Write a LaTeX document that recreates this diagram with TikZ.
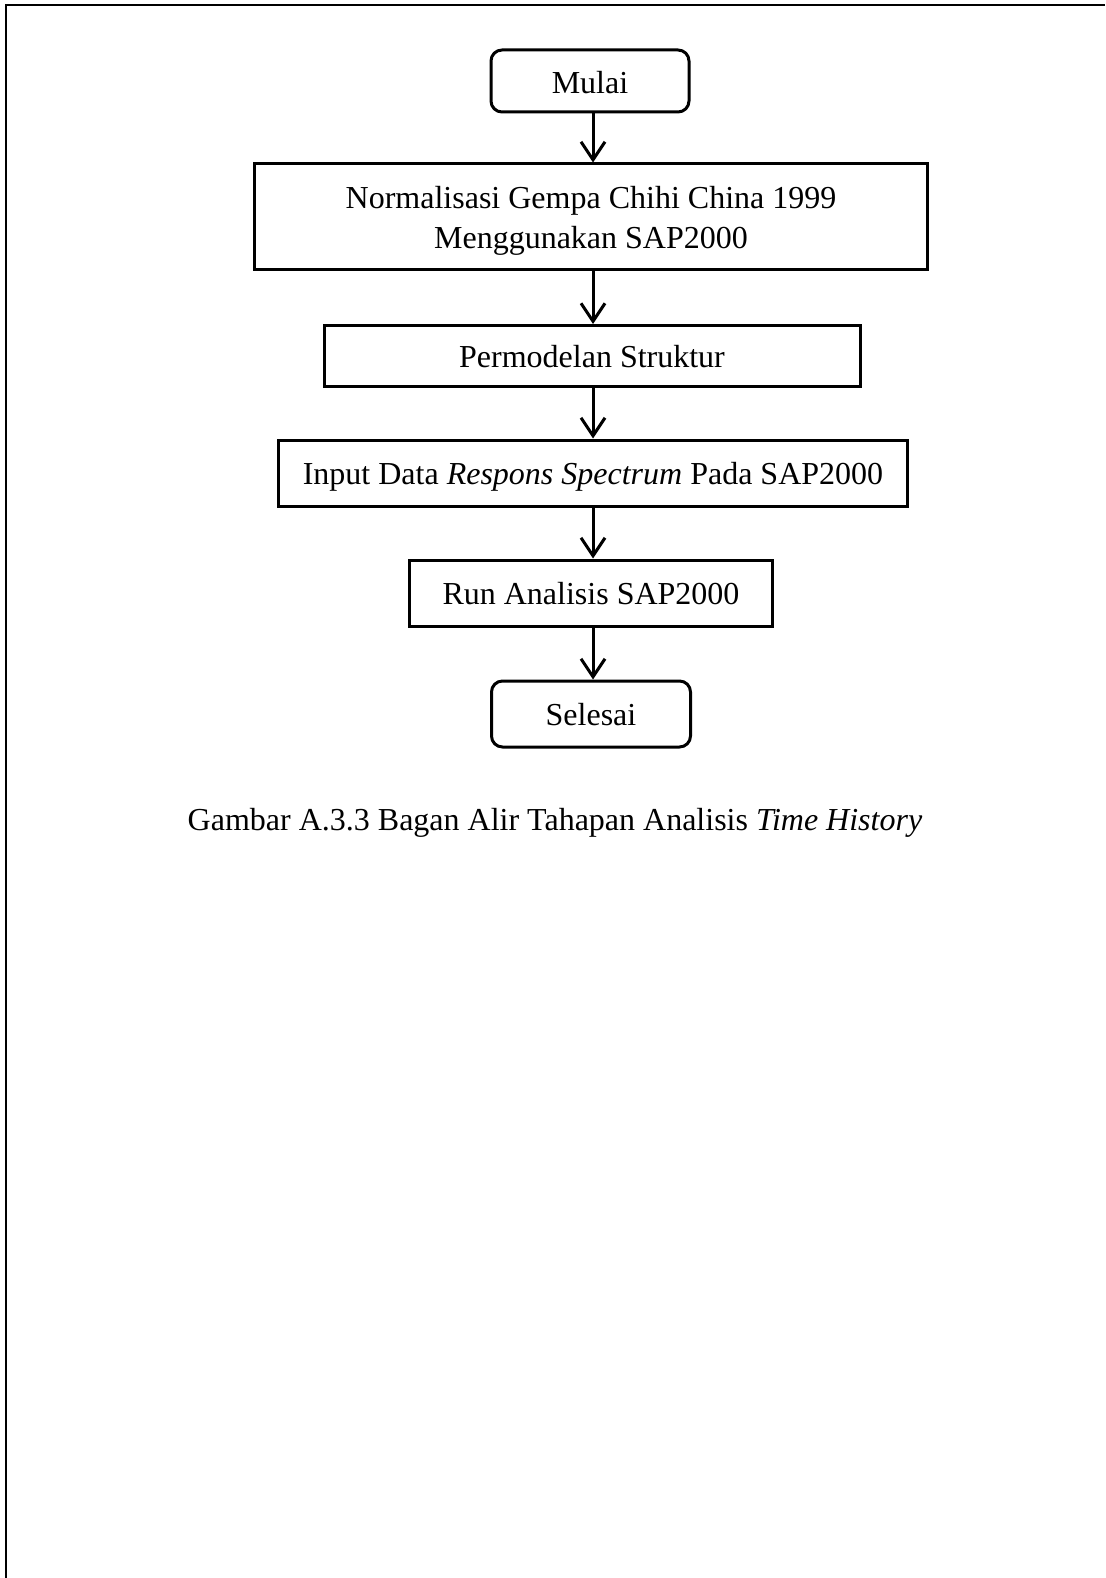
\documentclass[tikz,border=0pt]{standalone}
\usepackage{fontspec}
\setmainfont{Liberation Serif}
\usetikzlibrary{arrows.meta}
\begin{document}
\begin{tikzpicture}[x=1pt,y=-1pt,
  every node/.style={font=\fontsize{32}{40}\selectfont},
  procbox/.style={draw, line width=3pt, inner sep=0pt, align=center, text depth=0pt},
  termbox/.style={procbox, rounded corners=11pt},
  flow/.style={line width=3pt, -{Straight Barb[length=18pt,width=24pt,line width=3pt]}},
  frameline/.style={line width=2.5pt}]
\useasboundingbox (0,0) rectangle (1105,1578);
\draw[frameline] (6,1578) -- (6,5) -- (1105,5);

\node[termbox, minimum width=198pt, minimum height=62pt] (start) at (590,81) {\raisebox{-2pt}{Mulai}};
\node[procbox, minimum width=673pt, minimum height=106pt] (norm) at (591,217) {Normalisasi Gempa Chihi China 1999\\Menggunakan SAP2000};
\node[procbox, minimum width=536pt, minimum height=61pt] (model) at (592,356) {Permodelan Struktur};
\node[procbox, minimum width=629pt, minimum height=66pt] (input) at (593,473) {Input Data \textit{Respons Spectrum} Pada SAP2000};
\node[procbox, minimum width=363pt, minimum height=66pt] (run) at (591,593) {Run Analisis SAP2000};
\node[termbox, minimum width=199pt, minimum height=66pt] (end) at (591,714) {\raisebox{-1pt}{Selesai}};

\node[text depth=0pt] (cap) at (555,819) {Gambar A.3.3 Bagan Alir Tahapan Analisis \textit{Time History}};

\coordinate (ax) at (593,0);
\draw[flow] (start.south -| ax) -- (norm.north -| ax);
\draw[flow] (norm.south -| ax) -- (model.north -| ax);
\draw[flow] (model.south -| ax) -- (input.north -| ax);
\draw[flow] (input.south -| ax) -- (run.north -| ax);
\draw[flow] (run.south -| ax) -- (end.north -| ax);
\end{tikzpicture}
\end{document}
